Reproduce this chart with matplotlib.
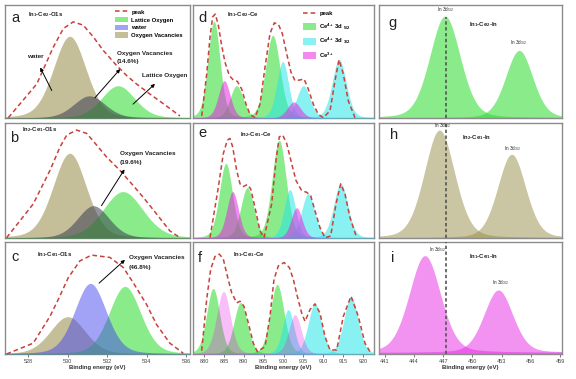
import numpy as np
import matplotlib
matplotlib.use('Agg')
import matplotlib.pyplot as plt
from matplotlib.patches import Patch, FancyArrowPatch
from matplotlib.lines import Line2D

plt.rcParams['font.family'] = ['Liberation Sans', 'DejaVu Sans']
plt.rcParams['mathtext.default'] = 'regular'

W, H = 576, 379

# ---------------- O1s (left column) ----------------
# peaks: centre [eV], height, FWHM [eV]; order = vacancies(khaki), water, lattice(green)
a_center = [530.1, 531.1, 532.55]
a_height = [81, 22, 32]
a_fwhm = [1.95, 1.9, 2.0]
b_center = [530.1, 531.3, 532.8]
b_height = [84, 32, 46]
b_fwhm = [2.0, 1.9, 2.4]
c_center = [530.0, 531.15, 532.9]
c_height = [37, 70, 67]
c_fwhm = [2.1, 1.9, 1.9]

# measured envelopes ("peak")
a_env_E = [526.99, 528.43, 529.27, 529.78, 530.28, 530.79, 531.30, 531.80, 532.48,
           532.99, 533.49, 534.17, 535.0, 535.69]
a_env_I = [0.3, 33.7, 70.3, 88.7, 95.3, 92, 80.3, 67, 52, 42, 33.7, 23.7, 12, 2]
b_env_E = [526.9, 528.25, 529.1, 529.61, 529.95, 530.45, 530.96, 531.47, 531.97,
           532.65, 533.32, 533.83, 534.51, 535.18, 535.69]
b_env_I = [0.3, 33.7, 67, 90.3, 102, 107, 103.7, 92, 80.3, 67, 52, 40.3, 23.7, 7, 0.3]
c_env_E = [526.9, 528.25, 529.1, 529.52, 530.03, 530.62, 531.21, 532.14, 532.82,
           533.32, 534.0, 534.51, 535.18, 535.86]
c_env_I = [0, 10.7, 37.3, 54, 75.7, 92.3, 98, 95.7, 85.7, 70.7, 49, 29, 10.7, 0.7]

# ---------------- Ce 3d (middle column) ----------------
d_green_c = [882.5, 888.2, 897.3]
d_green_h = [96, 32, 82]
d_green_w = [3.6, 3.9, 4.3]
d_cyan_c = [899.8, 905.0, 914.0]
d_cyan_h = [56, 32, 58]
d_cyan_w = [3.5, 4.0, 4.2]
d_mag_c = [885.1, 902.6]
d_mag_h = [37, 16]
d_mag_w = [3.5, 3.9]
d_env_E = [879.42, 880.68, 881.51, 882.18, 882.85, 883.6, 884.44, 885.28, 886.37,
           887.38, 888.39, 889.48, 890.57, 891.57, 892.83, 894.09, 895.35, 896.6,
           897.69, 898.7, 899.7, 900.8, 901.89, 902.89, 904.15, 905.16, 906.24,
           907.5, 908.76, 910.01, 911.7, 912.96, 913.96, 915.05, 916.3, 917.99]
d_env_I = [2, 43.7, 80.3, 100.3, 103, 92, 72, 55.3, 42, 37.7, 36.3, 28.7, 13.7, 3.7,
           0.3, 13.7, 50.3, 83.7, 94.3, 93, 83.7, 63.7, 45.3, 37, 37.7, 38.7, 28.7,
           13.7, 3.7, 0.3, 7, 37, 57.7, 43.7, 17, 0.3]

e_green_c = [885.5, 890.9, 898.9]
e_green_h = [74, 50, 97]
e_green_w = [3.9, 3.9, 4.2]
e_cyan_c = [901.6, 906.2, 914.4]
e_cyan_h = [48, 44, 54]
e_cyan_w = [3.4, 3.9, 4.2]
e_mag_c = [887.2, 903.3]
e_mag_h = [46, 30]
e_mag_w = [3.5, 3.3]
e_env_E = [881.51, 883.6, 884.86, 885.87, 886.54, 887.21, 888.22, 889.06, 889.89,
           890.9, 891.74, 892.83, 894.09, 895.09, 897.02, 898.11, 898.94, 899.8,
           900.8, 902.06, 903.14, 904.57, 905.83, 906.84, 907.92, 909.18, 910.44,
           911.87, 913.21, 914.39, 915.47, 916.73, 918.41]
e_env_I = [0.3, 50.3, 83.7, 97, 98.7, 90.3, 67, 53.7, 51, 53, 48.7, 30.3, 7, 0.3,
           33.7, 77, 100.3, 102, 93.7, 73.7, 57, 47, 45.3, 42, 27, 10.3, 0.3, 2,
           33.7, 53.7, 43.7, 20.3, 0.3]

f_green_c = [882.3, 889.2, 898.4]
f_green_h = [65, 51, 69]
f_green_w = [3.9, 4.0, 4.1]
f_cyan_c = [901.2, 907.9, 917.0]
f_cyan_h = [44, 50, 57]
f_cyan_w = [3.4, 4.0, 4.2]
f_mag_c = [884.9, 902.9]
f_mag_h = [62, 39]
f_mag_w = [4.1, 3.7]
f_env_E = [879.42, 880.67, 881.68, 882.77, 883.86, 884.86, 885.87, 886.96, 888.22,
           889.06, 890.06, 891.15, 892.41, 893.42, 895.35, 896.6, 897.61, 898.7,
           900.13, 901.47, 902.47, 903.47, 904.57, 905.41, 906.67, 907.92, 909.18,
           910.44, 911.7, 913.38, 915.05, 916.98, 918.82, 920.5, 921.76]
f_env_I = [3.3, 54, 84, 96.7, 99, 94, 77.3, 60.7, 50.7, 52.3, 47.3, 30.7, 10.7, 2.3,
           7.3, 37.3, 74, 87.3, 90.7, 85.7, 74, 57.3, 40.7, 32.3, 44, 49.7, 40.7,
           17.3, 4, 4, 37.3, 57.3, 37.3, 10.7, 2.3]

# ---------------- In 3d (right column) ----------------
g_center = [447.17, 454.8]
g_height = [101, 67]
g_fwhm = [3.7, 3.3]
h_center = [446.6, 454.03]
h_height = [107, 83]
h_fwhm = [3.7, 3.4]
i_center = [445.1, 452.66]
i_height = [96, 62]
i_fwhm = [3.8, 3.5]
i_base = 1.5
in_ref_E = 447.3

# ---------------- styles ----------------
KHAKI = (150/255, 140/255, 70/255)
GREEN = '#28DC28'
CYAN = '#28E6E6'
MAG = '#E628E6'
BLUE = '#4646F0'
GREYB = '#3C3C50'
RED = '#C8413C'
AL = 0.55
GL_MIX = 0.22     # Lorentzian share of the Gaussian-Lorentzian line shape


def peak(x, c, h, w):
    u = 4*(x - c)**2/w**2
    return h*((1 - GL_MIX)*np.exp(-np.log(2)*u) + GL_MIX/(1 + u))


def fill_peaks(ax, x, cs, hs, ws, color, alpha=AL, z=2, base=0):
    for c, h, w in zip(cs, hs, ws):
        ax.fill_between(x, 0, peak(x, c, h, w) + base, color=color, alpha=alpha,
                        lw=0, zorder=z)


def envelope(ax, E, I):
    ax.plot(E, I, color=RED, lw=1.1, dashes=(3, 2), zorder=6)


fig = plt.figure(figsize=(W/100, H/100), dpi=100)

cols = [(5, 190), (193, 374), (379, 562)]
rows = [(5, 118), (123, 238), (242, 354)]
xlims = [(526.82, 536.2), (877.23, 922.77), (440.38, 459.21)]
xticks = [[528, 530, 532, 534, 536], list(range(880, 921, 5)), list(range(441, 460, 3))]

axes = {}
letters = 'abcdefghi'
for ci, (x0, x1) in enumerate(cols):
    for ri, (y0, y1) in enumerate(rows):
        ax = fig.add_axes([x0/W, 1 - y1/H, (x1 - x0)/W, (y1 - y0)/H])
        ax.set_xlim(*xlims[ci])
        ax.set_ylim(0, y1 - y0 - 1)
        ax.set_yticks([])
        for s in ax.spines.values():
            s.set_color('#8c8c8c')
            s.set_linewidth(1.0)
        if ri == 2:
            ax.set_xticks(xticks[ci])
            ax.tick_params(axis='x', labelsize=4, length=2, width=0.5, pad=1.5,
                           colors='#444444')
            ax.set_xlabel('Binding energy (eV)', fontsize=4.3, fontweight='bold',
                          labelpad=1, color='#333333')
        else:
            ax.set_xticks([])
        axes[letters[ci*3 + ri]] = ax

# O1s panels
xo = np.linspace(*xlims[0], 600)
for key, cs, hs, ws, E, I in [('a', a_center, a_height, a_fwhm, a_env_E, a_env_I),
                              ('b', b_center, b_height, b_fwhm, b_env_E, b_env_I),
                              ('c', c_center, c_height, c_fwhm, c_env_E, c_env_I)]:
    ax = axes[key]
    fill_peaks(ax, xo, cs[:1], hs[:1], ws[:1], KHAKI, z=2)
    fill_peaks(ax, xo, cs[2:], hs[2:], ws[2:], GREEN, z=3)
    if key == 'c':
        fill_peaks(ax, xo, cs[1:2], hs[1:2], ws[1:2], BLUE, alpha=0.5, z=4)
    else:
        fill_peaks(ax, xo, cs[1:2], hs[1:2], ws[1:2], GREYB, alpha=0.55, z=4)
    envelope(ax, E, I)

# Ce panels
xc = np.linspace(*xlims[1], 900)
for key, gr, cy, mg, E, I, malpha in [
        ('d', (d_green_c, d_green_h, d_green_w), (d_cyan_c, d_cyan_h, d_cyan_w),
         (d_mag_c, d_mag_h, d_mag_w), d_env_E, d_env_I, AL),
        ('e', (e_green_c, e_green_h, e_green_w), (e_cyan_c, e_cyan_h, e_cyan_w),
         (e_mag_c, e_mag_h, e_mag_w), e_env_E, e_env_I, AL),
        ('f', (f_green_c, f_green_h, f_green_w), (f_cyan_c, f_cyan_h, f_cyan_w),
         (f_mag_c, f_mag_h, f_mag_w), f_env_E, f_env_I, 0.3)]:
    ax = axes[key]
    fill_peaks(ax, xc, *gr, GREEN, z=2)
    fill_peaks(ax, xc, *cy, CYAN, z=3)
    fill_peaks(ax, xc, *mg, MAG, alpha=malpha, z=4)
    envelope(ax, E, I)

# In panels
xi = np.linspace(*xlims[2], 600)
fill_peaks(axes['g'], xi, g_center, g_height, g_fwhm, GREEN)
fill_peaks(axes['h'], xi, h_center, h_height, h_fwhm, KHAKI, alpha=0.5)
fill_peaks(axes['i'], xi, i_center, i_height, i_fwhm, MAG, alpha=0.5, base=i_base)
axes['g'].plot([in_ref_E, in_ref_E], [0, 100], color='#555555', lw=1.2, dashes=(2, 1.5), zorder=6)
axes['h'].axvline(in_ref_E, color='#555555', lw=1.2, dashes=(2, 1.5), zorder=6)
axes['i'].axvline(in_ref_E, color='#555555', lw=1.2, dashes=(2, 1.5), zorder=6)


def ftext(px, py, s, **kw):
    kw.setdefault('va', 'center')
    fig.text(px/W, 1 - py/H, s, **kw)


# panel letters
for k, (px, py) in {'a': (11, 18), 'b': (10, 138), 'c': (11, 257), 'd': (198, 18),
                    'e': (198, 133), 'f': (198, 258), 'g': (388, 23), 'h': (390, 135),
                    'i': (391, 258)}.items():
    ftext(px, py, k, fontsize=10.5, color='#222222')

tb = dict(fontsize=4.3, fontweight='bold', color='#222222')
ftext(28, 15, 'In$_1$-Ce$_2$-O1s', **tb)
ftext(22, 130, 'In$_2$-Ce$_1$-O1s', **tb)
ftext(37, 255, 'In$_1$-Ce$_1$-O1s', **tb)
ftext(227, 15, 'In$_1$-Ce$_2$-Ce', **tb)
ftext(240, 135, 'In$_2$-Ce$_1$-Ce', **tb)
ftext(233, 255, 'In$_1$-Ce$_1$-Ce', **tb)
ftext(469, 25, 'In$_1$-Ce$_2$-In', **tb)
ftext(462, 138, 'In$_2$-Ce$_1$-In', **tb)
ftext(469, 257, 'In$_1$-Ce$_1$-In', **tb)

ts = dict(fontsize=3.3, color='#222222', ha='center')
ftext(445, 10, 'In 3d$_{5/2}$', **ts)
ftext(518, 43, 'In 3d$_{3/2}$', **ts)
ftext(442, 126, 'In 3d$_{5/2}$', **ts)
ftext(512, 149, 'In 3d$_{3/2}$', **ts)
ftext(437, 250, 'In 3d$_{5/2}$', **ts)
ftext(500, 283, 'In 3d$_{3/2}$', **ts)

# annotations
an = dict(fontsize=4.6, fontweight='bold', color='#222222', zorder=20)


def arrow(tail, head):
    fig.add_artist(FancyArrowPatch(
        (tail[0]/W, 1 - tail[1]/H), (head[0]/W, 1 - head[1]/H),
        transform=fig.transFigure, arrowstyle='-|>', mutation_scale=5,
        color='k', lw=0.7, zorder=10))


ftext(27, 57, 'water', **an)
arrow((53, 93), (39, 65))
ftext(117, 53, 'Oxygen Vacancies', **an)
ftext(117, 62, '(14.6%)', **an)
arrow((93, 100), (122, 67))
ftext(142, 76, 'Lattice Oxygen', **an)
arrow((131, 106), (157, 82))
ftext(120, 154, 'Oxygen Vacancies', **an)
ftext(120, 163, '(19.6%)', **an)
arrow((100, 208), (126, 167))
ftext(129, 257, 'Oxygen Vacancies', **an)
ftext(129, 267, '(46.8%)', **an)
arrow((97, 285), (127, 258))

# legends
lg = dict(frameon=False, fontsize=4.2, handlelength=2.3, handletextpad=0.5,
          borderpad=0, borderaxespad=0, loc='upper left')
h_a = [Line2D([], [], color=RED, lw=1.1, dashes=(3, 2)),
       Patch(facecolor=GREEN, alpha=AL), Patch(facecolor=BLUE, alpha=0.5),
       Patch(facecolor=KHAKI, alpha=AL)]
leg = axes['a'].legend(h_a, ['peak', 'Lattice Oxygen', 'water', 'Oxygen Vacancies'],
                       bbox_to_anchor=(115/W, 1 - 9/H), bbox_transform=fig.transFigure,
                       labelspacing=0.35, handleheight=1.1, **lg)
for t in leg.get_texts():
    t.set_fontweight('bold')
h_d = [Line2D([], [], color=RED, lw=1.1, dashes=(3, 2)),
       Patch(facecolor=GREEN, alpha=AL), Patch(facecolor=CYAN, alpha=AL),
       Patch(facecolor=MAG, alpha=AL)]
leg = axes['d'].legend(h_d, ['peak', 'Ce$^{4+}$ 3d $_{5/2}$', 'Ce$^{4+}$ 3d $_{3/2}$',
                             'Ce$^{3+}$'],
                       bbox_to_anchor=(303/W, 1 - 10/H), bbox_transform=fig.transFigure,
                       labelspacing=0.75, handleheight=1.5, **lg)
for t in leg.get_texts():
    t.set_fontweight('bold')

fig.savefig('out.png', dpi=100)
